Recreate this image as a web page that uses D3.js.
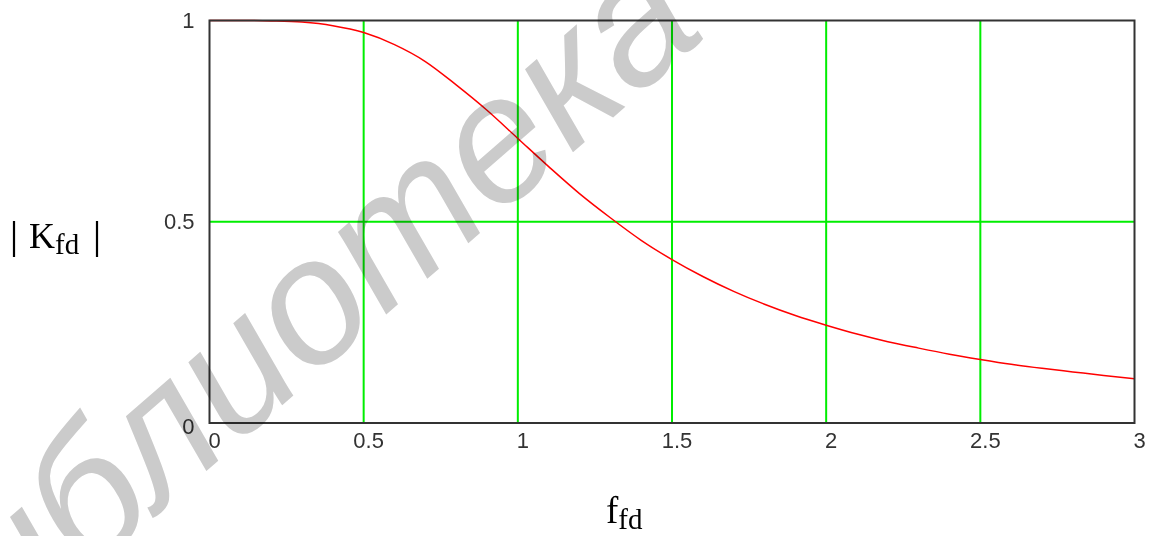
<!DOCTYPE html>
<html>
<head>
<meta charset="utf-8">
<script src="https://cdn.jsdelivr.net/npm/d3@7"></script>
<style>
  body { margin: 0; background: #fff; }
  svg { display: block; }
</style>
</head>
<body>
<svg id="chart"></svg>
<script>
// values
const fVals = [0, 0.1, 0.2, 0.3, 0.4, 0.5, 0.6, 0.7, 0.8, 0.9, 1.0,
               1.1, 1.2, 1.3, 1.4, 1.5, 1.6, 1.7, 1.8, 1.9, 2.0,
               2.1, 2.2, 2.3, 2.4, 2.5, 2.6, 2.7, 2.8, 2.9, 3.0];
const kVals = [1, 1, 0.999, 0.996, 0.987, 0.97, 0.94, 0.898, 0.84, 0.777, 0.707,
               0.637, 0.57, 0.51, 0.454, 0.406, 0.364, 0.327, 0.295, 0.267, 0.243,
               0.221, 0.202, 0.186, 0.171, 0.158, 0.146, 0.136, 0.127, 0.118, 0.110];
const xTicks = [0, 0.5, 1, 1.5, 2, 2.5, 3];
const yTicks = [0, 0.5, 1];
const watermark = "библиотека";

const width = 1157, height = 536;
const plotLeft = 209.5, plotRight = 1134.5, plotTop = 20.5, plotBottom = 423;

const svg = d3.select("#chart").attr("width", width).attr("height", height);

let x = d3.scaleLinear().domain([0, 3]).range([plotLeft, plotRight]);
let y = d3.scaleLinear().domain([0, 1]).range([plotBottom, plotTop]);

// grid
svg.selectAll(".vgrid")
   .data(xTicks.filter((d) => d > 0 && d < 3)).enter()
   .append("line")
   .attr("class", "vgrid")
   .attr("x1", (d) => x(d)).attr("x2", (d) => x(d))
   .attr("y1", plotTop).attr("y2", plotBottom)
   .attr("stroke", "#00ee00").attr("stroke-width", 2);
svg.selectAll(".hgrid")
   .data(yTicks.filter((d) => d > 0 && d < 1)).enter()
   .append("line")
   .attr("class", "hgrid")
   .attr("x1", plotLeft).attr("x2", plotRight)
   .attr("y1", (d) => y(d)).attr("y2", (d) => y(d))
   .attr("stroke", "#00ee00").attr("stroke-width", 2);

// curve
let line = d3.line()
   .x((d, i) => x(fVals[i]))
   .y((d) => y(d))
   .curve(d3.curveMonotoneX);
svg.append("path")
   .datum(kVals)
   .attr("d", line)
   .attr("fill", "none")
   .attr("stroke", "#ff0000")
   .attr("stroke-width", 1.5);

// frame
svg.append("rect")
   .attr("x", plotLeft).attr("y", plotTop)
   .attr("width", plotRight - plotLeft).attr("height", plotBottom - plotTop)
   .attr("fill", "none").attr("stroke", "#333").attr("stroke-width", 2);

// tick labels
svg.selectAll(".xlab")
   .data(xTicks).enter()
   .append("text")
   .attr("class", "xlab")
   .attr("x", (d) => x(d) + 5)
   .attr("y", plotBottom + 17)
   .attr("text-anchor", "middle")
   .attr("dominant-baseline", "central")
   .attr("font-family", "Liberation Sans")
   .attr("font-size", 22)
   .attr("fill", "#333")
   .text((d) => d);
svg.selectAll(".ylab")
   .data(yTicks).enter()
   .append("text")
   .attr("class", "ylab")
   .attr("x", plotLeft - 15)
   .attr("y", (d) => y(d) + (d === 0 ? 3 : 0))
   .attr("text-anchor", "end")
   .attr("dominant-baseline", "central")
   .attr("font-family", "Liberation Sans")
   .attr("font-size", 22)
   .attr("fill", "#333")
   .text((d) => d);

// axis titles: |K_fd|
svg.selectAll(".absbar")
   .data([14, 97]).enter()
   .append("line")
   .attr("class", "absbar")
   .attr("x1", (d) => d).attr("x2", (d) => d)
   .attr("y1", 221).attr("y2", 257)
   .attr("stroke", "#000").attr("stroke-width", 2.2);
let yt = svg.append("text")
   .attr("x", 29).attr("y", 248)
   .attr("font-family", "Liberation Serif")
   .attr("font-size", 36)
   .attr("fill", "#000");
yt.append("tspan").text("K");
yt.append("tspan").attr("font-size", 29).attr("dy", 6).text("fd");

let xt = svg.append("text")
   .attr("x", 606).attr("y", 523)
   .attr("font-family", "Liberation Serif")
   .attr("font-size", 37)
   .attr("fill", "#000");
xt.append("tspan").text("f");
xt.append("tspan").attr("font-size", 29).attr("dy", 6).text("fd");

// watermark
svg.append("text")
   .attr("transform", "translate(-64,706) rotate(-41)")
   .attr("font-family", "Liberation Sans")
   .attr("font-style", "italic")
   .attr("font-size", 178)
   .attr("fill", "#cbcbcb")
   .style("mix-blend-mode", "multiply")
   .text(watermark);
</script>
</body>
</html>
